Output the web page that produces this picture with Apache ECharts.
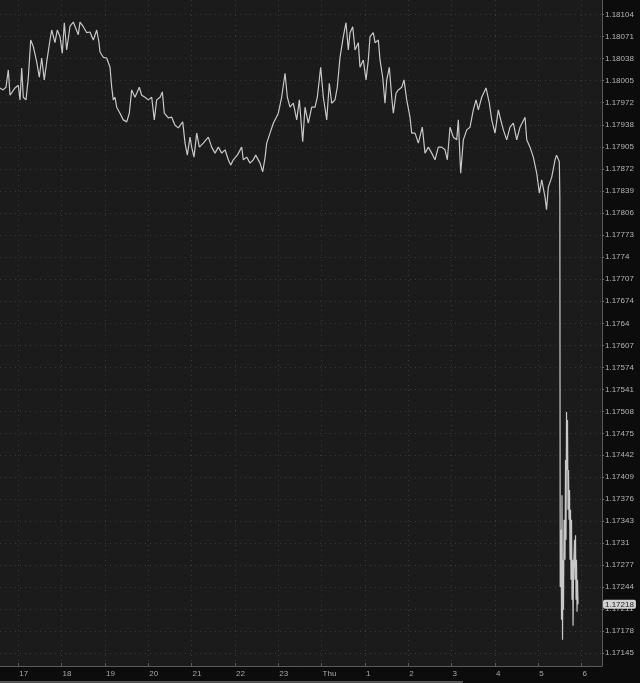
<!DOCTYPE html>
<html><head><meta charset="utf-8">
<script src="https://cdn.jsdelivr.net/npm/echarts@6.0.0/dist/echarts.min.js"></script>
<style>html,body{margin:0;padding:0;background:#0c0c0c;}#c{width:640px;height:683px;}</style>
</head><body><div id="c"></div>
<script>
// time in hours (Thu 00:00 = 24)
const times = [16.578,16.647,16.716,16.770,16.809,16.848,16.924,17.000,17.040,17.079,
17.116,17.178,17.231,17.287,17.347,17.425,17.485,17.540,17.600,17.656,
17.732,17.771,17.847,17.900,17.963,18.016,18.062,18.117,18.194,18.270,
18.385,18.424,18.500,18.579,18.655,18.731,18.810,18.863,18.886,18.962,
19.040,19.117,19.156,19.193,19.232,19.271,19.347,19.424,19.502,19.562,
19.617,19.694,19.793,19.848,19.924,20.001,20.079,20.139,20.194,20.271,
20.324,20.370,20.462,20.541,20.617,20.693,20.795,20.848,20.901,20.963,
21.002,21.055,21.118,21.178,21.270,21.385,21.464,21.540,21.616,21.695,
21.771,21.847,21.902,21.962,22.055,22.156,22.193,22.272,22.348,22.424,
22.479,22.579,22.641,22.694,22.733,22.809,22.886,23.001,23.079,23.156,
23.209,23.271,23.347,23.426,23.486,23.564,23.617,23.693,23.772,23.848,
23.901,23.979,24.040,24.118,24.178,24.233,24.309,24.362,24.425,24.501,
24.563,24.616,24.656,24.718,24.771,24.847,24.886,24.963,25.025,25.078,
25.117,25.193,25.233,25.309,25.348,25.410,25.463,25.503,25.563,25.618,
25.655,25.717,25.770,25.849,25.902,25.964,26.040,26.079,26.156,26.232,
26.324,26.386,26.463,26.541,26.617,26.694,26.772,26.848,26.901,26.964,
27.040,27.118,27.155,27.210,27.271,27.349,27.425,27.501,27.564,27.617,
27.695,27.794,27.871,27.926,28.002,28.078,28.134,28.194,28.272,28.348,
28.425,28.503,28.579,28.695,28.734,28.810,28.886,28.964,29.025,29.080,
29.156,29.191,29.232,29.311,29.387,29.422,29.463,29.486,29.498,29.507,
29.525,29.537,29.548,29.560,29.571,29.583,29.595,29.618,29.629,29.641,
29.652,29.664,29.675,29.687,29.699,29.710,29.722,29.733,29.745,29.756,
29.768,29.779,29.791,29.803,29.814,29.837,29.849,29.860,29.872,29.883,
29.895,29.906,29.918];
const prices = [1.17994,1.17991,1.17995,1.18021,1.17983,1.17980,1.17994,1.17998,1.17976,1.18024,
1.17980,1.17976,1.18009,1.18066,1.18056,1.18033,1.18010,1.18039,1.18006,1.18033,
1.18066,1.18081,1.18062,1.18081,1.18071,1.18046,1.18092,1.18051,1.18087,1.18093,
1.18074,1.18093,1.18086,1.18077,1.18078,1.18066,1.18081,1.18062,1.18048,1.18040,
1.18039,1.18025,1.17995,1.17976,1.17980,1.17965,1.17956,1.17946,1.17943,1.17956,
1.17991,1.17980,1.17995,1.17983,1.17980,1.17976,1.17980,1.17946,1.17976,1.17980,
1.17988,1.17956,1.17949,1.17950,1.17938,1.17934,1.17943,1.17911,1.17893,1.17920,
1.17905,1.17890,1.17926,1.17905,1.17911,1.17920,1.17905,1.17896,1.17905,1.17896,
1.17901,1.17886,1.17878,1.17886,1.17893,1.17905,1.17886,1.17890,1.17881,1.17886,
1.17893,1.17881,1.17868,1.17889,1.17911,1.17926,1.17941,1.17956,1.17980,1.18016,
1.17980,1.17965,1.17971,1.17946,1.17976,1.17913,1.17965,1.17941,1.17965,1.17965,
1.17980,1.18025,1.17980,1.17946,1.18001,1.17971,1.17976,1.17995,1.18040,1.18071,
1.18092,1.18051,1.18077,1.18086,1.18051,1.18062,1.18025,1.18036,1.18006,1.18036,
1.18071,1.18077,1.18062,1.18066,1.18036,1.18010,1.17971,1.18006,1.18025,1.17980,
1.17956,1.17986,1.17991,1.17995,1.18006,1.17976,1.17950,1.17926,1.17926,1.17911,
1.17935,1.17896,1.17905,1.17896,1.17886,1.17905,1.17905,1.17901,1.17886,1.17935,
1.17920,1.17916,1.17946,1.17866,1.17916,1.17931,1.17935,1.17961,1.17976,1.17961,
1.17980,1.17994,1.17971,1.17946,1.17926,1.17961,1.17946,1.17931,1.17916,1.17935,
1.17941,1.17916,1.17935,1.17950,1.17916,1.17905,1.17890,1.17866,1.17836,1.17856,
1.17830,1.17811,1.17845,1.17860,1.17886,1.17893,1.17890,1.17883,1.17830,1.17244,
1.17330,1.17195,1.17382,1.17165,1.17285,1.17210,1.17345,1.17285,1.17435,1.17315,
1.17507,1.17420,1.17495,1.17360,1.17420,1.17345,1.17390,1.17285,1.17360,1.17255,
1.17345,1.17225,1.17285,1.17186,1.17270,1.17315,1.17255,1.17322,1.17225,1.17285,
1.17207,1.17255,1.17218];
const xTicks = [17,18,19,20,21,22,23,24,25,26,27,28,29,30];
const xTickLabels = ['17','18','19','20','21','22','23','Thu','1','2','3','4','5','6'];
const yTickLabels = ['1.18104','1.18071','1.18038','1.18005','1.17972','1.17938','1.17905','1.17872','1.17839','1.17806',
'1.17773','1.1774','1.17707','1.17674','1.1764','1.17607','1.17574','1.17541','1.17508','1.17475',
'1.17442','1.17409','1.17376','1.17343','1.1731','1.17277','1.17244','1.17211','1.17178','1.17145'];
const lastPrice = 1.17218;
const xMin = 16.578, xMax = 30.471;
const yMin = 1.171254, yMax = 1.181261;

const yTickValues = yTickLabels.map(Number);
const font = 'Liberation Sans';
const chart = echarts.init(document.getElementById('c'), null, {renderer: 'canvas'});
chart.setOption({
  animation: false,
  backgroundColor: '#0c0c0c',
  grid: {left: 0, right: 38, top: 0, bottom: 17, show: true, backgroundColor: '#1b1b1b', borderWidth: 0},
  xAxis: {
    type: 'value', min: xMin, max: xMax,
    axisLine: {show: true, lineStyle: {color: '#5a5a5a', width: 1}},
    axisTick: {show: true, inside: true, length: 3, customValues: xTicks, lineStyle: {color: '#5a5a5a'}},
    axisLabel: {customValues: xTicks, formatter: v => xTickLabels[xTicks.indexOf(Math.round(v))] || '',
      color: '#a8a8a8', fontSize: 8, fontFamily: font, align: 'left', margin: 4, padding: [0, 0, 0, 1]},
    splitLine: {show: true, lineStyle: {color: '#3a3a3a', type: [1, 4], width: 1}}
  },
  yAxis: [{
    type: 'value', position: 'right', min: yMin, max: yMax, scale: true,
    axisLine: {show: true, lineStyle: {color: '#5a5a5a', width: 1}},
    axisTick: {show: true, length: 2, customValues: yTickValues, lineStyle: {color: '#6a6a6a'}},
    axisLabel: {customValues: yTickValues, formatter: v => {
        let best = 0;
        yTickValues.forEach((t, i) => { if (Math.abs(t - v) < Math.abs(yTickValues[best] - v)) best = i; });
        return yTickLabels[best];
      }, color: '#b4b4b4', fontSize: 8, fontFamily: font, margin: 3},
    splitLine: {show: true, lineStyle: {color: '#3a3a3a', type: [1, 4], width: 1}}
  }, {
    type: 'value', position: 'right', min: yMin, max: yMax, scale: true, z: 10,
    axisLine: {show: false}, axisTick: {show: false}, splitLine: {show: false},
    axisLabel: {customValues: [lastPrice], formatter: () => lastPrice.toFixed(5),
      color: '#1e1e1e', backgroundColor: '#d2d2d2', borderRadius: 2, padding: [1, 2, 0, 2],
      fontSize: 8, fontFamily: font, margin: 1}
  }],
  graphic: [{type: 'rect', left: 0, top: 681, shape: {width: 463, height: 2}, style: {fill: '#555555'}}],
  series: [{
    type: 'line', xAxisIndex: 0, yAxisIndex: 0,
    data: times.map((t, i) => [t, prices[i]]),
    showSymbol: false, symbol: 'none',
    lineStyle: {color: '#c8c8c8', width: 1.2}
  }]
});
</script>
</body></html>
